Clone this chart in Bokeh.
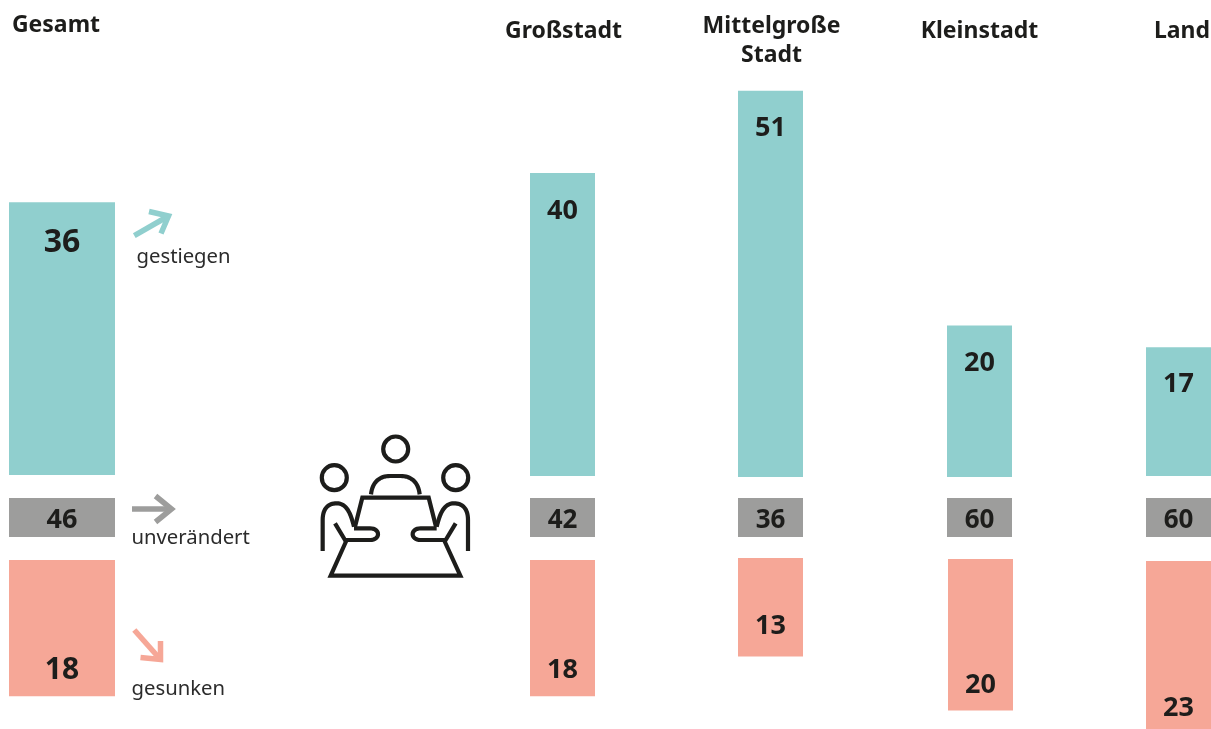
from bokeh.plotting import figure
from bokeh.models import Range1d
from bokeh.core.properties import value
from bokeh.embed import file_html
from bokeh.resources import INLINE

# ---- data ----
categories = ["Gesamt", "Großstadt", "Mittelgroße\nStadt", "Kleinstadt", "Land"]
gestiegen = [36, 40, 51, 20, 17]
unveraendert = [46, 42, 36, 60, 60]
gesunken = [18, 18, 13, 20, 23]
legend_labels = ["gestiegen", "unverändert", "gesunken"]

# ---- layout / style ----
TEAL, GREY, PINK, INK = "#90cfce", "#9d9d9c", "#f6a797", "#1d1d1b"
FONT = "Noto Sans"
PX = 7.575
lefts = [9, 530, 738, 947, 1146]
widths = [106, 65, 65, 65, 65]
pink_shift = [0, 0, 0, 1, 0]
teal_base = [475, 476, 477, 477, 476]
pink_top = [560, 560, 558, 559, 561]
GREY_TOP, GREY_BOT = 498, 537

p = figure(width=1211, height=729, output_backend="svg", toolbar_location=None,
           x_range=Range1d(0.5, 1211.5), y_range=Range1d(729.5, 0.5), min_border=0,
           outline_line_color=None, background_fill_color="white",
           border_fill_color="white")
p.axis.visible = False
p.grid.visible = False
p.styles = {"position": "fixed", "left": "0px", "top": "0px"}

centers = [l + w / 2 for l, w in zip(lefts, widths)]
teal_top = [b - v * PX for b, v in zip(teal_base, gestiegen)]
pink_bot = [t + v * PX for t, v in zip(pink_top, gesunken)]

p.vbar(x=centers, width=widths, bottom=teal_base, top=teal_top, color=TEAL, line_color=None)
p.vbar(x=centers, width=widths, bottom=[GREY_BOT] * 5, top=[GREY_TOP] * 5, color=GREY, line_color=None)
p.vbar(x=[c + s for c, s in zip(centers, pink_shift)], width=widths, bottom=pink_bot, top=pink_top,
       color=PINK, line_color=None)


def label(x, y, t, size, bold=True, align="center", color=INK):
    p.text(x=x, y=y, text=t, text_font=value(FONT), text_font_size=[f"{s}px" for s in size],
           text_font_style="bold" if bold else "normal", text_align=align,
           text_baseline="middle", text_color=color)


num_size = [32, 27, 27, 27, 27]
grey_size = [27, 26, 26, 26, 26]
teal_off = [38.5, 36, 35.5, 35.5, 35.5]
label(centers, [t + o for t, o in zip(teal_top, teal_off)], [str(v) for v in gestiegen], num_size)
label(centers, [518.5] * 5, [str(v) for v in unveraendert], grey_size)
pink_text_y = [668, 668, 624, 683, 706]
label([c + s for c, s in zip(centers, pink_shift)], pink_text_y, [str(v) for v in gesunken], [30, 27, 27, 27, 27])

# headers
label([56], [22.5], [categories[0]], [23])
label([563.5], [28.5], [categories[1]], [23])
m1, m2 = categories[2].split("\n")
label([771.5, 771.5], [23.5, 52.5], [m1, m2], [23, 23])
label([979.5], [28.5], [categories[3]], [23])
label([1182], [28.5], [categories[4]], [23])

# legend labels
label([136.5, 131.5, 131.5], [254.5, 535.5, 686.5], legend_labels, [20.3, 20.3, 20.3], bold=False, align="left", color="#2b2b2b")

# legend arrows
for col, xs, ys in [
    (TEAL, [[134.3, 168.5], [149, 168.5, 161]], [[235.7, 216], [211.5, 216, 233.5]]),
    (GREY, [[132, 171.5], [155.5, 171.5, 155.5]], [[509, 509], [496, 509, 522]]),
    (PINK, [[134.3, 160.5], [140.5, 160.5, 160.5]], [[630, 659.5], [657.5, 659.5, 641]]),
]:
    p.multi_line(xs, ys, line_color=col, line_width=5.5, line_join="miter", line_cap="butt")


# icon
def bez(p0, p1, p2, p3, n=16):
    pts = []
    for i in range(n + 1):
        t = i / n
        u = 1 - t
        pts.append((u**3 * p0[0] + 3 * u * u * t * p1[0] + 3 * u * t * t * p2[0] + t**3 * p3[0],
                    u**3 * p0[1] + 3 * u * u * t * p1[1] + 3 * u * t * t * p2[1] + t**3 * p3[1]))
    return pts


def z(pts, mirror=False):
    xs = [310 + ((512 - a) if mirror else a) / 3 for a, _ in pts]
    ys = [425 + b / 3 for _, b in pts]
    return xs, ys


body = [(38, 378), (38, 285)] + bez((38, 285), (38, 250), (55, 235), (80, 235))[1:] + \
       bez((80, 235), (110, 235), (122, 265), (132, 305))[1:]
arm = [(132, 310), (180, 310)] + bez((180, 310), (212, 310), (212, 345), (180, 345))[1:] + [(105, 345), (75, 295)]
shoulders = bez((183, 208), (187, 170), (210, 153), (240, 153))[0:] + [(272, 153)] + \
            bez((272, 153), (302, 153), (325, 170), (329, 208))[1:]
table_top = [(135, 305), (157, 218), (356, 218), (378, 305)]
table_bot = [(110, 345), (62, 452), (451, 452), (402, 345)]

paths = [z(shoulders), z(table_top), z(table_bot), z(body), z(arm), z(body, True), z(arm, True)]
p.multi_line([a for a, _ in paths], [b for _, b in paths], line_color=INK, line_width=4.2,
             line_join="miter", line_cap="butt")
p.circle(x=[395.7, 334.3, 455.7], y=[449, 477.7, 477.7], radius=12.5, fill_color=None,
         line_color=INK, line_width=4.2)

open("out.html", "w").write(file_html(p, INLINE))
